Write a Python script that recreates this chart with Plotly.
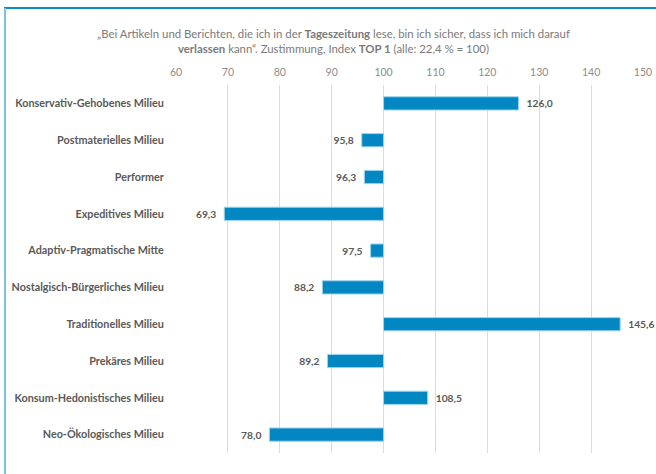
import plotly.graph_objects as go

categories = [
    "Konservativ-Gehobenes Milieu",
    "Postmaterielles Milieu",
    "Performer",
    "Expeditives Milieu",
    "Adaptiv-Pragmatische Mitte",
    "Nostalgisch-Bürgerliches Milieu",
    "Traditionelles Milieu",
    "Prekäres Milieu",
    "Konsum-Hedonistisches Milieu",
    "Neo-Ökologisches Milieu",
]
index_values = [126.0, 95.8, 96.3, 69.3, 97.5, 88.2, 145.6, 89.2, 108.5, 78.0]
baseline = 100
tick_values = [60, 70, 80, 90, 100, 110, 120, 130, 140, 150]

def fmt(v):
    s = f"{v:.1f}".replace(".", ",")
    return ("  " + s) if v >= baseline else (s + "  ")

W, H = 656, 474
L, R, T, B = 176, 13, 85, 21
pw, ph = W - L - R, H - T - B

def px(x):
    return (x - L) / pw

def py(y):
    return (H - B - y) / ph

FONT = "Lato, Open Sans, sans-serif"

fig = go.Figure(
    go.Bar(
        y=categories,
        x=[v - baseline for v in index_values],
        base=baseline,
        orientation="h",
        width=0.36,
        marker=dict(color="#0287c3", line=dict(color="#9fd3ec", width=1)),
        text=[fmt(v) for v in index_values],
        textposition="outside",
        textfont=dict(family=FONT, size=10.3, color="#595959", weight="bold"),
        cliponaxis=False,
        hoverinfo="skip",
    )
)

fig.update_layout(
    width=W,
    height=H,
    margin=dict(l=L, r=R, t=T, b=B, autoexpand=False),
    paper_bgcolor="white",
    plot_bgcolor="white",
    showlegend=False,
    xaxis=dict(
        range=[60, 150],
        side="top",
        automargin=False,
        tickvals=tick_values,
        tickfont=dict(family=FONT, size=10.5, color="#8c8c8c"),
        showgrid=True,
        gridcolor="#dcdcdc",
        gridwidth=1,
        zeroline=False,
        showline=False,
        ticks="outside",
        ticklen=4,
        tickcolor="rgba(0,0,0,0)",
    ),
    yaxis=dict(
        autorange="reversed",
        automargin=False,
        tickfont=dict(family=FONT, size=10.8, color="#595959", weight="bold"),
        ticks="outside",
        ticklen=9,
        tickcolor="rgba(0,0,0,0)",
        showgrid=False,
        zeroline=False,
        showline=False,
    ),
    annotations=[
        dict(
            xref="paper",
            yref="paper",
            x=px(333),
            y=py(41),
            xanchor="center",
            yanchor="middle",
            showarrow=False,
            align="center",
            text="„Bei Artikeln und Berichten, die ich in der <b>Tageszeitung</b> lese, bin ich sicher, dass ich mich darauf<br>"
                 "<b>verlassen</b> kann“. Zustimmung, Index <b>TOP 1</b> (alle: 22,4 % = 100)",
            font=dict(family=FONT, size=11.4, color="#7a7a7a"),
        )
    ],
    shapes=[
        dict(type="line", xref="paper", yref="paper",
             x0=px(4), x1=px(660), y0=py(8), y1=py(8),
             line=dict(color="#0a8ac6", width=2)),
        dict(type="line", xref="paper", yref="paper",
             x0=px(5), x1=px(5), y0=py(8), y1=py(480),
             line=dict(color="#7cc1e4", width=2)),
    ],
)

fig.write_html(
    "out.html",
    config={"displayModeBar": False},
    post_script="document.body.style.margin='0';document.body.style.overflow='hidden';",
)
